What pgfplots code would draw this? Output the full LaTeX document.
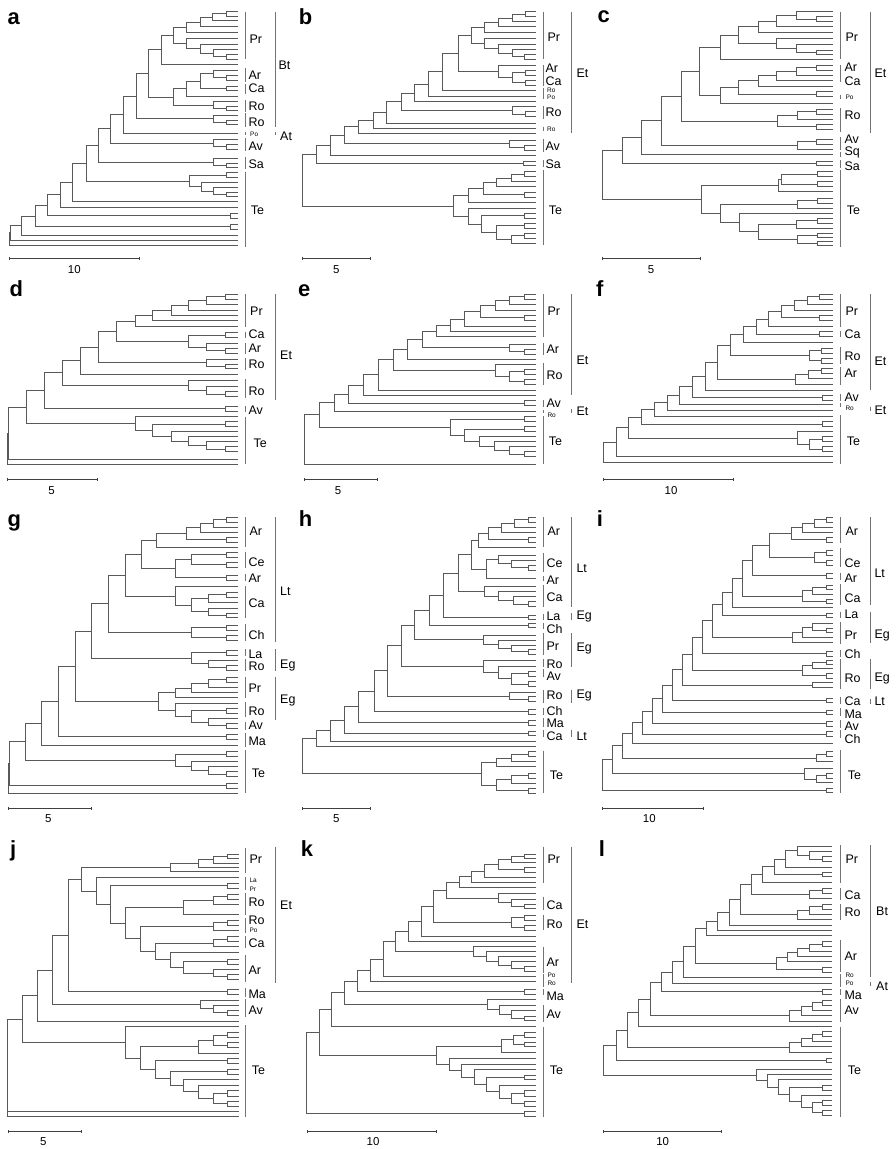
\documentclass[border=0pt]{standalone}
\usepackage{pgfplots}
\pgfplotsset{compat=1.18}
\usepackage{fontspec}
\setmainfont{Liberation Sans}
\pgfplotsset{
  panel/.style={scale only axis, hide axis, clip=false, xmin=0, xmax=900, width=300bp, ymin=0, y dir=reverse, anchor=north west, unbounded coords=jump},
  tr/.style={no markers, line width=0.75bp, color=black!65},
  cb/.style={no markers, line width=0.6bp, color=black!55},
  sb/.style={no markers, line width=0.7bp, color=black!75},
}
\tikzset{
  L/.style={anchor=west, inner sep=0pt, font=\fontsize{12.5}{13}\selectfont},
  S/.style={anchor=west, inner sep=0pt, font=\fontsize{6.5}{7}\selectfont},
  N/.style={anchor=center, inner sep=0pt, font=\fontsize{11.5}{12}\selectfont},
  P/.style={anchor=base west, inner sep=0pt, font=\fontsize{22}{22}\selectfont\bfseries},
}
\begin{document}
\begin{tikzpicture}[x=1bp,y=1bp]
\useasboundingbox (0bp,0bp) rectangle (896bp,-1149bp);
% ---------------- a
\begin{axis}[panel, at={(0bp,0bp)}, ymax=855, height=285bp]
\addplot[tr] coordinates {
(713,35)(678,35)(678,48)(713,48)(0,nan)
(678,41.5)(638,41.5)(638,62)(713,62)(0,nan)
(638,51.75)(600,51.75)(600,80)(713,80)(0,nan)
(600,65.9)(560,65.9)(560,98)(713,98)(0,nan)
(713,163)(678,163)(678,177)(713,177)(0,nan)
(713,148)(640,148)(640,170)(678,170)(0,nan)
(713,132)(600,132)(600,159)(640,159)(0,nan)
(713,115)(560,115)(560,145.5)(600,145.5)(0,nan)
(560,81.9)(520,81.9)(520,130.25)(560,130.25)(0,nan)
(520,106.1)(485,106.1)(485,192)(713,192)(0,nan)
(713,225)(678,225)(678,240)(713,240)(0,nan)
(713,210)(640,210)(640,232.5)(678,232.5)(0,nan)
(713,258)(678,258)(678,272)(713,272)(0,nan)
(640,221.25)(600,221.25)(600,265)(678,265)(0,nan)
(600,243.1)(560,243.1)(560,290)(713,290)(0,nan)
(713,318)(678,318)(678,332)(713,332)(0,nan)
(713,305)(640,305)(640,325)(678,325)(0,nan)
(560,266.6)(520,266.6)(520,315)(640,315)(0,nan)
(485,149.05)(445,149.05)(445,290.8)(520,290.8)(0,nan)
(713,360)(678,360)(678,373)(713,373)(0,nan)
(713,345)(640,345)(640,366.5)(678,366.5)(0,nan)
(445,219.9)(408,219.9)(408,355.75)(640,355.75)(0,nan)
(408,287.8)(370,287.8)(370,400)(713,400)(0,nan)
(713,433)(678,433)(678,447)(713,447)(0,nan)
(713,418)(640,418)(640,440)(678,440)(0,nan)
(370,343.9)(330,343.9)(330,429)(640,429)(0,nan)
(713,490)(678,490)(678,503)(713,503)(0,nan)
(713,475)(640,475)(640,496.5)(678,496.5)(0,nan)
(330,386.5)(295,386.5)(295,485.75)(640,485.75)(0,nan)
(713,518)(678,518)(678,533)(713,533)(0,nan)
(713,577)(678,577)(678,590)(713,590)(0,nan)
(713,562)(640,562)(640,583.5)(678,583.5)(0,nan)
(713,548)(605,548)(605,572.75)(640,572.75)(0,nan)
(678,525.5)(568,525.5)(568,560.4)(605,560.4)(0,nan)
(295,436.1)(258,436.1)(258,542.9)(568,542.9)(0,nan)
(258,489.5)(218,489.5)(218,605)(713,605)(0,nan)
(218,547.3)(180,547.3)(180,622)(713,622)(0,nan)
(713,640)(690,640)(690,655)(713,655)(0,nan)
(180,584.6)(143,584.6)(143,647.5)(690,647.5)(0,nan)
(713,673)(690,673)(690,688)(713,688)(0,nan)
(143,616)(105,616)(105,680.5)(690,680.5)(0,nan)
(105,648.3)(65,648.3)(65,705)(713,705)(0,nan)
(65,676.6)(32,676.6)(32,720)(713,720)(0,nan)
(32,698.3)(28,698.3)(28,735)(713,735)
};
\addplot[cb] coordinates {(735,35)(735,178)(0,nan)(735,205)(735,245)(0,nan)(735,252)(735,282)(0,nan)(735,300)(735,335)(0,nan)(735,340)(735,380)(0,nan)(735,396)(735,406)(0,nan)(735,413)(735,452)(0,nan)(735,470)(735,508)(0,nan)(735,515)(735,740)(0,nan)(825,35)(825,380)(0,nan)(825,396)(825,406)};
\addplot[sb] coordinates {(28,770)(28,780)(0,nan)(28,775)(418,775)(0,nan)(418,770)(418,780)};
\node[P] at (22,72) {a};
\node[L] at (748,118) {Pr};
\node[L] at (745,226) {Ar};
\node[L] at (745,266) {Ca};
\node[L] at (745,318) {Ro};
\node[L] at (745,366) {Ro};
\node[S] at (750,403) {Po};
\node[L] at (745,438) {Av};
\node[L] at (745,492) {Sa};
\node[L] at (752,632) {Te};
\node[L] at (835,197) {Bt};
\node[L] at (840,410) {At};
\node[N] at (223,810) {10};
\end{axis}
% ---------------- b
\begin{axis}[panel, at={(298bp,0bp)}, ymax=855, height=285bp]
\addplot[tr] coordinates {
(713,35)(683,35)(683,50)(713,50)(0,nan)
(683,42.5)(643,42.5)(643,65)(713,65)(0,nan)
(643,53.75)(600,53.75)(600,80)(713,80)(0,nan)
(600,66.9)(560,66.9)(560,97)(713,97)(0,nan)
(713,163)(680,163)(680,178)(713,178)(0,nan)
(713,148)(643,148)(643,170.5)(680,170.5)(0,nan)
(713,132)(600,132)(600,159.25)(643,159.25)(0,nan)
(713,115)(560,115)(560,145.6)(600,145.6)(0,nan)
(560,81.9)(520,81.9)(520,130.3)(560,130.3)(0,nan)
(713,210)(683,210)(683,225)(713,225)(0,nan)
(713,240)(683,240)(683,255)(713,255)(0,nan)
(683,217.5)(643,217.5)(643,247.5)(683,247.5)(0,nan)
(713,195)(600,195)(600,232.5)(643,232.5)(0,nan)
(520,106.1)(480,106.1)(480,213.75)(600,213.75)(0,nan)
(480,159.9)(433,159.9)(433,270)(713,270)(0,nan)
(433,214.95)(390,214.95)(390,290)(713,290)(0,nan)
(390,252.5)(350,252.5)(350,305)(713,305)(0,nan)
(713,335)(683,335)(683,350)(713,350)(0,nan)
(713,320)(643,320)(643,342.5)(683,342.5)(0,nan)
(350,278.7)(310,278.7)(310,331.25)(643,331.25)(0,nan)
(310,305)(265,305)(265,370)(713,370)(0,nan)
(265,337.5)(225,337.5)(225,385)(713,385)(0,nan)
(225,361.25)(180,361.25)(180,400)(713,400)(0,nan)
(713,435)(680,435)(680,450)(713,450)(0,nan)
(713,420)(633,420)(633,442.5)(680,442.5)(0,nan)
(180,380.6)(138,380.6)(138,431.25)(633,431.25)(0,nan)
(138,405.9)(97,405.9)(97,465)(713,465)(0,nan)
(713,483)(675,483)(675,497)(713,497)(0,nan)
(97,435.5)(55,435.5)(55,490)(675,490)(0,nan)
(713,515)(680,515)(680,530)(713,530)(0,nan)
(680,522.5)(640,522.5)(640,545)(713,545)(0,nan)
(640,533.75)(595,533.75)(595,560)(713,560)(0,nan)
(713,577)(680,577)(680,592)(713,592)(0,nan)
(595,546.9)(555,546.9)(555,584.5)(680,584.5)(0,nan)
(555,565.7)(510,565.7)(510,608)(713,608)(0,nan)
(713,640)(680,640)(680,655)(713,655)(0,nan)
(713,670)(680,670)(680,685)(713,685)(0,nan)
(713,700)(680,700)(680,715)(713,715)(0,nan)
(680,707.5)(640,707.5)(640,730)(713,730)(0,nan)
(680,677.5)(595,677.5)(595,718.75)(640,718.75)(0,nan)
(680,647.5)(550,647.5)(550,698.1)(595,698.1)(0,nan)
(713,625)(510,625)(510,672.8)(550,672.8)(0,nan)
(510,586.8)(465,586.8)(465,648.9)(510,648.9)(0,nan)
(55,462.7)(12,462.7)(12,617.9)(465,617.9)
};
\addplot[cb] coordinates {(735,35)(735,178)(0,nan)(735,195)(735,258)(0,nan)(735,263)(735,297)(0,nan)(735,318)(735,358)(0,nan)(735,380)(735,393)(0,nan)(735,418)(735,455)(0,nan)(735,480)(735,500)(0,nan)(735,510)(735,735)(0,nan)(820,35)(820,400)};
\addplot[sb] coordinates {(12,770)(12,780)(0,nan)(12,775)(217,775)(0,nan)(217,770)(217,780)};
\node[P] at (2,72) {b};
\node[L] at (748,112) {Pr};
\node[L] at (742,204) {Ar};
\node[L] at (742,244) {Ca};
\node[S] at (747,271) {Ro};
\node[S] at (747,291) {Po};
\node[L] at (742,338) {Ro};
\node[S] at (747,387) {Ro};
\node[L] at (742,440) {Av};
\node[L] at (742,492) {Sa};
\node[L] at (752,632) {Te};
\node[L] at (835,220) {Et};
\node[N] at (115,808) {5};
\end{axis}
% ---------------- c
\begin{axis}[panel, at={(596bp,0bp)}, ymax=855, height=285bp]
\addplot[tr] coordinates {
(710,50)(660,50)(660,65)(710,65)(0,nan)
(710,35)(600,35)(600,57.5)(660,57.5)(0,nan)
(600,46.25)(540,46.25)(540,80)(710,80)(0,nan)
(540,63.1)(487,63.1)(487,97)(710,97)(0,nan)
(710,150)(660,150)(660,163)(710,163)(0,nan)
(710,132)(600,132)(600,156.5)(660,156.5)(0,nan)
(710,115)(540,115)(540,144.25)(600,144.25)(0,nan)
(487,80.05)(428,80.05)(428,129.6)(540,129.6)(0,nan)
(428,104.8)(372,104.8)(372,178)(710,178)(0,nan)
(710,195)(660,195)(660,210)(710,210)(0,nan)
(660,202.5)(600,202.5)(600,225)(710,225)(0,nan)
(600,213.75)(540,213.75)(540,240)(710,240)(0,nan)
(540,226.9)(487,226.9)(487,258)(710,258)(0,nan)
(710,275)(660,275)(660,290)(710,290)(0,nan)
(487,242.4)(428,242.4)(428,282.5)(660,282.5)(0,nan)
(428,262.5)(372,262.5)(372,310)(710,310)(0,nan)
(372,141.4)(310,141.4)(310,286.2)(372,286.2)(0,nan)
(710,328)(660,328)(660,343)(710,343)(0,nan)
(660,335.5)(603,335.5)(603,358)(710,358)(0,nan)
(710,373)(660,373)(660,388)(710,388)(0,nan)
(603,346.75)(543,346.75)(543,380.5)(660,380.5)(0,nan)
(310,213.8)(255,213.8)(255,363.6)(543,363.6)(0,nan)
(710,418)(660,418)(660,432)(710,432)(0,nan)
(660,425)(603,425)(603,447)(710,447)(0,nan)
(255,288.7)(195,288.7)(195,436)(603,436)(0,nan)
(195,362.35)(135,362.35)(135,462)(710,462)(0,nan)
(710,483)(660,483)(660,497)(710,497)(0,nan)
(135,412.2)(78,412.2)(78,490)(660,490)(0,nan)
(710,515)(665,515)(665,530)(710,530)(0,nan)
(710,545)(665,545)(665,560)(710,560)(0,nan)
(665,522.5)(555,522.5)(555,552.5)(665,552.5)(0,nan)
(555,537.5)(548,537.5)(548,575)(710,575)(0,nan)
(710,595)(665,595)(665,610)(710,610)(0,nan)
(665,602.5)(605,602.5)(605,625)(710,625)(0,nan)
(710,655)(665,655)(665,670)(710,670)(0,nan)
(665,662.5)(600,662.5)(600,685)(710,685)(0,nan)
(710,700)(665,700)(665,712)(710,712)(0,nan)
(710,723)(665,723)(665,735)(710,735)(0,nan)
(665,706)(605,706)(605,729)(665,729)(0,nan)
(600,673.75)(487,673.75)(487,717.5)(605,717.5)(0,nan)
(710,640)(430,640)(430,695.6)(487,695.6)(0,nan)
(605,613.75)(372,613.75)(372,667.8)(430,667.8)(0,nan)
(548,556.25)(315,556.25)(315,640.8)(372,640.8)(0,nan)
(78,451.1)(18,451.1)(18,598.5)(315,598.5)
};
\addplot[cb] coordinates {(733,35)(733,178)(0,nan)(733,195)(733,245)(0,nan)(733,284)(733,298)(0,nan)(733,325)(733,395)(0,nan)(733,412)(733,450)(0,nan)(733,455)(733,470)(0,nan)(733,480)(733,503)(0,nan)(733,510)(733,740)(0,nan)(822,35)(822,400)};
\addplot[sb] coordinates {(18,770)(18,780)(0,nan)(18,775)(312,775)(0,nan)(312,770)(312,780)};
\node[P] at (4,68) {c};
\node[L] at (748,112) {Pr};
\node[L] at (745,202) {Ar};
\node[L] at (745,244) {Ca};
\node[S] at (748,292) {Po};
\node[L] at (745,345) {Ro};
\node[L] at (745,417) {Av};
\node[L] at (745,457) {Sq};
\node[L] at (745,499) {Sa};
\node[L] at (752,630) {Te};
\node[L] at (835,220) {Et};
\node[N] at (165,808) {5};
\end{axis}
% ---------------- d
\begin{axis}[panel, at={(0bp,-280bp)}, ymax=660, height=220bp]
\addplot[tr] coordinates {
(715,42)(675,42)(675,57)(715,57)(0,nan)
(675,49.5)(620,49.5)(620,72)(715,72)(0,nan)
(620,60.75)(565,60.75)(565,90)(715,90)(0,nan)
(565,75.4)(515,75.4)(515,105)(715,105)(0,nan)
(515,90.2)(458,90.2)(458,122)(715,122)(0,nan)
(458,106.1)(405,106.1)(405,140)(715,140)(0,nan)
(715,158)(675,158)(675,172)(715,172)(0,nan)
(715,205)(675,205)(675,220)(715,220)(0,nan)
(715,190)(620,190)(620,212.5)(675,212.5)(0,nan)
(675,165)(565,165)(565,201.25)(620,201.25)(0,nan)
(405,123.05)(348,123.05)(348,183.1)(565,183.1)(0,nan)
(715,252)(675,252)(675,266)(715,266)(0,nan)
(715,238)(620,238)(620,259)(675,259)(0,nan)
(348,153.1)(295,153.1)(295,248.5)(620,248.5)(0,nan)
(295,200.8)(240,200.8)(240,283)(715,283)(0,nan)
(715,335)(675,335)(675,350)(715,350)(0,nan)
(715,318)(620,318)(620,342.5)(675,342.5)(0,nan)
(715,300)(565,300)(565,330.25)(620,330.25)(0,nan)
(240,241.9)(188,241.9)(188,315.1)(565,315.1)(0,nan)
(715,380)(675,380)(675,393)(715,393)(0,nan)
(188,278.5)(132,278.5)(132,386.5)(675,386.5)(0,nan)
(715,425)(675,425)(675,440)(715,440)(0,nan)
(715,500)(675,500)(675,515)(715,515)(0,nan)
(715,485)(620,485)(620,507.5)(675,507.5)(0,nan)
(715,470)(565,470)(565,496.25)(620,496.25)(0,nan)
(715,455)(515,455)(515,483.1)(565,483.1)(0,nan)
(675,432.5)(458,432.5)(458,469.1)(515,469.1)(0,nan)
(715,410)(405,410)(405,450.8)(458,450.8)(0,nan)
(132,332.5)(78,332.5)(78,430.4)(405,430.4)(0,nan)
(78,381.45)(26,381.45)(26,538)(715,538)(0,nan)
(26,459.7)(22,459.7)(22,552)(715,552)
};
\addplot[cb] coordinates {(735,42)(735,140)(0,nan)(735,155)(735,175)(0,nan)(735,188)(735,222)(0,nan)(735,235)(735,270)(0,nan)(735,298)(735,355)(0,nan)(735,378)(735,396)(0,nan)(735,410)(735,553)(0,nan)(825,42)(825,360)};
\addplot[sb] coordinates {(22,593)(22,603)(0,nan)(22,598)(292,598)(0,nan)(292,593)(292,603)};
\node[P] at (28,48) {d};
\node[L] at (750,95) {Pr};
\node[L] at (745,162) {Ca};
\node[L] at (745,206) {Ar};
\node[L] at (745,252) {Ro};
\node[L] at (745,335) {Ro};
\node[L] at (745,390) {Av};
\node[L] at (760,490) {Te};
\node[L] at (840,225) {Et};
\node[N] at (155,632) {5};
\end{axis}
% ---------------- e
\begin{axis}[panel, at={(298bp,-280bp)}, ymax=660, height=220bp]
\addplot[tr] coordinates {
(713,42)(680,42)(680,57)(713,57)(0,nan)
(680,49.5)(635,49.5)(635,72)(713,72)(0,nan)
(635,60.75)(593,60.75)(593,90)(713,90)(0,nan)
(713,105)(680,105)(680,120)(713,120)(0,nan)
(593,75.4)(548,75.4)(548,112.5)(680,112.5)(0,nan)
(548,93.95)(500,93.95)(500,140)(713,140)(0,nan)
(500,116.95)(458,116.95)(458,155)(713,155)(0,nan)
(458,136)(415,136)(415,170)(713,170)(0,nan)
(713,207)(680,207)(680,222)(713,222)(0,nan)
(713,192)(635,192)(635,214.5)(680,214.5)(0,nan)
(415,153)(372,153)(372,203.25)(635,203.25)(0,nan)
(372,178.1)(328,178.1)(328,237)(713,237)(0,nan)
(713,267)(680,267)(680,282)(713,282)(0,nan)
(713,297)(680,297)(680,312)(713,312)(0,nan)
(680,274.5)(635,274.5)(635,304.5)(680,304.5)(0,nan)
(713,252)(593,252)(593,289.5)(635,289.5)(0,nan)
(328,207.6)(285,207.6)(285,270.75)(593,270.75)(0,nan)
(285,239.2)(240,239.2)(240,330)(713,330)(0,nan)
(240,284.6)(195,284.6)(195,345)(713,345)(0,nan)
(713,362)(680,362)(680,377)(713,377)(0,nan)
(195,314.8)(152,314.8)(152,369.5)(680,369.5)(0,nan)
(152,342.15)(108,342.15)(108,393)(713,393)(0,nan)
(713,410)(680,410)(680,425)(713,425)(0,nan)
(713,440)(680,440)(680,455)(713,455)(0,nan)
(713,515)(680,515)(680,530)(713,530)(0,nan)
(713,500)(635,500)(635,522.5)(680,522.5)(0,nan)
(713,485)(590,485)(590,511.25)(635,511.25)(0,nan)
(713,470)(545,470)(545,498.1)(590,498.1)(0,nan)
(680,447.5)(500,447.5)(500,484.1)(545,484.1)(0,nan)
(680,417.5)(458,417.5)(458,465.8)(500,465.8)(0,nan)
(108,367.6)(63,367.6)(63,441.6)(458,441.6)(0,nan)
(63,404.6)(18,404.6)(18,553)(713,553)
};
\addplot[cb] coordinates {(735,42)(735,170)(0,nan)(735,190)(735,225)(0,nan)(735,250)(735,315)(0,nan)(735,360)(735,380)(0,nan)(735,390)(735,398)(0,nan)(735,408)(735,553)(0,nan)(820,42)(820,345)(0,nan)(820,388)(820,400)};
\addplot[sb] coordinates {(18,593)(18,603)(0,nan)(18,598)(237,598)(0,nan)(237,593)(237,603)};
\node[P] at (0,48) {e};
\node[L] at (748,95) {Pr};
\node[L] at (745,207) {Ar};
\node[L] at (745,285) {Ro};
\node[L] at (745,370) {Av};
\node[S] at (748,405) {Ro};
\node[L] at (752,485) {Te};
\node[L] at (835,240) {Et};
\node[L] at (835,395) {Et};
\node[N] at (120,632) {5};
\end{axis}
% ---------------- f
\begin{axis}[panel, at={(596bp,-280bp)}, ymax=660, height=220bp]
\addplot[tr] coordinates {
(710,42)(670,42)(670,57)(710,57)(0,nan)
(670,49.5)(633,49.5)(633,72)(710,72)(0,nan)
(633,60.75)(595,60.75)(595,90)(710,90)(0,nan)
(710,105)(670,105)(670,120)(710,120)(0,nan)
(595,75.4)(555,75.4)(555,112.5)(670,112.5)(0,nan)
(555,93.95)(518,93.95)(518,140)(710,140)(0,nan)
(710,155)(670,155)(670,170)(710,170)(0,nan)
(518,116.95)(480,116.95)(480,162.5)(670,162.5)(0,nan)
(480,139.7)(442,139.7)(442,187)(710,187)(0,nan)
(710,205)(675,205)(675,220)(710,220)(0,nan)
(710,235)(675,235)(675,250)(710,250)(0,nan)
(675,212.5)(640,212.5)(640,242.5)(675,242.5)(0,nan)
(442,163.4)(403,163.4)(403,227.5)(640,227.5)(0,nan)
(710,265)(675,265)(675,280)(710,280)(0,nan)
(675,272.5)(638,272.5)(638,295)(710,295)(0,nan)
(638,283.75)(598,283.75)(598,312)(710,312)(0,nan)
(403,195.45)(365,195.45)(365,297.9)(598,297.9)(0,nan)
(365,246.7)(327,246.7)(327,330)(710,330)(0,nan)
(710,345)(678,345)(678,360)(710,360)(0,nan)
(327,288.3)(290,288.3)(290,352.5)(678,352.5)(0,nan)
(290,320.4)(250,320.4)(250,372)(710,372)(0,nan)
(250,346.2)(213,346.2)(213,390)(710,390)(0,nan)
(213,368.1)(175,368.1)(175,410)(710,410)(0,nan)
(710,425)(680,425)(680,440)(710,440)(0,nan)
(175,389)(135,389)(135,432.5)(680,432.5)(0,nan)
(710,470)(680,470)(680,485)(710,485)(0,nan)
(710,500)(680,500)(680,515)(710,515)(0,nan)
(680,477.5)(640,477.5)(640,507.5)(680,507.5)(0,nan)
(710,455)(605,455)(605,492.5)(640,492.5)(0,nan)
(135,410.75)(97,410.75)(97,473.75)(605,473.75)(0,nan)
(97,442.25)(60,442.25)(60,530)(710,530)(0,nan)
(60,486.1)(22,486.1)(22,548)(710,548)
};
\addplot[cb] coordinates {(733,42)(733,140)(0,nan)(733,152)(733,172)(0,nan)(733,202)(733,252)(0,nan)(733,262)(733,315)(0,nan)(733,343)(733,362)(0,nan)(733,370)(733,380)(0,nan)(733,405)(733,553)(0,nan)(822,42)(822,330)(0,nan)(822,380)(822,392)};
\addplot[sb] coordinates {(22,593)(22,603)(0,nan)(22,598)(412,598)(0,nan)(412,593)(412,603)};
\node[P] at (0,48) {f};
\node[L] at (748,95) {Pr};
\node[L] at (745,162) {Ca};
\node[L] at (745,229) {Ro};
\node[L] at (745,281) {Ar};
\node[L] at (745,352) {Av};
\node[S] at (748,386) {Ro};
\node[L] at (752,485) {Te};
\node[L] at (835,245) {Et};
\node[L] at (835,390) {Et};
\node[N] at (225,632) {10};
\end{axis}
% ---------------- g
\begin{axis}[panel, at={(0bp,-500bp)}, ymax=990, height=330bp]
\addplot[tr] coordinates {
(713,51)(680,51)(680,66)(713,66)(0,nan)
(680,58.5)(640,58.5)(640,81)(713,81)(0,nan)
(640,69.75)(600,69.75)(600,96)(713,96)(0,nan)
(713,111)(680,111)(680,126)(713,126)(0,nan)
(600,82.9)(560,82.9)(560,118.5)(680,118.5)(0,nan)
(560,100.7)(470,100.7)(470,141)(713,141)(0,nan)
(713,156)(680,156)(680,171)(713,171)(0,nan)
(713,186)(680,186)(680,201)(713,201)(0,nan)
(680,163.5)(575,163.5)(575,193.5)(680,193.5)(0,nan)
(713,225)(680,225)(680,240)(713,240)(0,nan)
(575,178.5)(525,178.5)(525,232.5)(680,232.5)(0,nan)
(470,120.85)(425,120.85)(425,205.5)(525,205.5)(0,nan)
(713,277)(680,277)(680,292)(713,292)(0,nan)
(680,284.5)(625,284.5)(625,307)(713,307)(0,nan)
(713,340)(680,340)(680,352)(713,352)(0,nan)
(713,325)(625,325)(625,346)(680,346)(0,nan)
(625,295.75)(575,295.75)(575,335.5)(625,335.5)(0,nan)
(713,260)(525,260)(525,315.6)(575,315.6)(0,nan)
(425,163.2)(375,163.2)(375,287.8)(525,287.8)(0,nan)
(713,375)(680,375)(680,390)(713,390)(0,nan)
(713,405)(680,405)(680,420)(713,420)(0,nan)
(680,382.5)(575,382.5)(575,412.5)(680,412.5)(0,nan)
(375,225.5)(325,225.5)(325,397.5)(575,397.5)(0,nan)
(713,450)(680,450)(680,465)(713,465)(0,nan)
(713,495)(680,495)(680,510)(713,510)(0,nan)
(713,480)(625,480)(625,502.5)(680,502.5)(0,nan)
(680,457.5)(575,457.5)(575,491.25)(625,491.25)(0,nan)
(325,311.5)(275,311.5)(275,474.4)(575,474.4)(0,nan)
(713,532)(680,532)(680,547)(713,547)(0,nan)
(680,539.5)(625,539.5)(625,562)(713,562)(0,nan)
(625,550.75)(575,550.75)(575,577)(713,577)(0,nan)
(575,563.9)(525,563.9)(525,592)(713,592)(0,nan)
(713,625)(680,625)(680,640)(713,640)(0,nan)
(713,670)(680,670)(680,685)(713,685)(0,nan)
(713,655)(625,655)(625,677.5)(680,677.5)(0,nan)
(680,632.5)(575,632.5)(575,666.25)(625,666.25)(0,nan)
(713,610)(525,610)(525,649.4)(575,649.4)(0,nan)
(525,577.9)(475,577.9)(475,629.7)(525,629.7)(0,nan)
(275,392.95)(225,392.95)(225,603.8)(475,603.8)(0,nan)
(713,702)(680,702)(680,717)(713,717)(0,nan)
(225,498.4)(175,498.4)(175,709.5)(680,709.5)(0,nan)
(175,603.95)(125,603.95)(125,735)(713,735)(0,nan)
(713,755)(680,755)(680,770)(713,770)(0,nan)
(713,815)(680,815)(680,830)(713,830)(0,nan)
(713,800)(625,800)(625,822.5)(680,822.5)(0,nan)
(713,785)(575,785)(575,811.25)(625,811.25)(0,nan)
(680,762.5)(525,762.5)(525,798.1)(575,798.1)(0,nan)
(125,669.5)(75,669.5)(75,780.3)(525,780.3)(0,nan)
(713,850)(680,850)(680,865)(713,865)(0,nan)
(75,724.9)(28,724.9)(28,857.5)(680,857.5)(0,nan)
(28,791.2)(25,791.2)(25,880)(713,880)
};
\addplot[cb] coordinates {(735,51)(735,141)(0,nan)(735,156)(735,205)(0,nan)(735,222)(735,243)(0,nan)(735,258)(735,355)(0,nan)(735,372)(735,422)(0,nan)(735,448)(735,468)(0,nan)(735,478)(735,512)(0,nan)(735,530)(735,595)(0,nan)(735,605)(735,650)(0,nan)(735,665)(735,690)(0,nan)(735,700)(735,740)(0,nan)(735,750)(735,880)(0,nan)(825,51)(825,425)(0,nan)(825,448)(825,512)(0,nan)(825,530)(825,660)};
\addplot[sb] coordinates {(25,920)(25,930)(0,nan)(25,925)(275,925)(0,nan)(275,920)(275,930)};
\node[P] at (22,80) {g};
\node[L] at (748,95) {Ar};
\node[L] at (745,188) {Ce};
\node[L] at (745,234) {Ar};
\node[L] at (745,310) {Ca};
\node[L] at (745,405) {Ch};
\node[L] at (745,462) {La};
\node[L] at (745,500) {Ro};
\node[L] at (745,565) {Pr};
\node[L] at (745,635) {Ro};
\node[L] at (745,675) {Av};
\node[L] at (745,725) {Ma};
\node[L] at (755,820) {Te};
\node[L] at (840,275) {Lt};
\node[L] at (840,495) {Eg};
\node[L] at (840,600) {Eg};
\node[N] at (145,955) {5};
\end{axis}
% ---------------- h
\begin{axis}[panel, at={(298bp,-500bp)}, ymax=990, height=330bp]
\addplot[tr] coordinates {
(713,51)(690,51)(690,66)(713,66)(0,nan)
(690,58.5)(650,58.5)(650,81)(713,81)(0,nan)
(650,69.75)(610,69.75)(610,96)(713,96)(0,nan)
(713,111)(690,111)(690,126)(713,126)(0,nan)
(610,82.9)(570,82.9)(570,118.5)(690,118.5)(0,nan)
(570,100.7)(540,100.7)(540,141)(713,141)(0,nan)
(713,195)(690,195)(690,210)(713,210)(0,nan)
(713,180)(640,180)(640,202.5)(690,202.5)(0,nan)
(713,165)(600,165)(600,191.25)(640,191.25)(0,nan)
(600,178.1)(565,178.1)(565,235)(713,235)(0,nan)
(540,120.85)(520,120.85)(520,206.6)(565,206.6)(0,nan)
(713,305)(690,305)(690,320)(713,320)(0,nan)
(713,290)(645,290)(645,312.5)(690,312.5)(0,nan)
(713,275)(600,275)(600,301.25)(645,301.25)(0,nan)
(713,260)(560,260)(560,288.1)(600,288.1)(0,nan)
(520,163.7)(480,163.7)(480,274.05)(560,274.05)(0,nan)
(713,345)(690,345)(690,358)(713,358)(0,nan)
(480,218.9)(435,218.9)(435,351.5)(690,351.5)(0,nan)
(713,370)(690,370)(690,383)(713,383)(0,nan)
(435,285.2)(393,285.2)(393,376.5)(690,376.5)(0,nan)
(713,448)(690,448)(690,462)(713,462)(0,nan)
(713,435)(640,435)(640,455)(690,455)(0,nan)
(713,420)(600,420)(600,445)(640,445)(0,nan)
(713,405)(555,405)(555,432.5)(600,432.5)(0,nan)
(393,330.85)(350,330.85)(350,418.75)(555,418.75)(0,nan)
(713,513)(690,513)(690,528)(713,528)(0,nan)
(713,545)(690,545)(690,560)(713,560)(0,nan)
(690,520.5)(640,520.5)(640,552.5)(690,552.5)(0,nan)
(713,498)(600,498)(600,536.5)(640,536.5)(0,nan)
(713,480)(555,480)(555,517.25)(600,517.25)(0,nan)
(350,374.8)(310,374.8)(310,498.6)(555,498.6)(0,nan)
(713,590)(690,590)(690,605)(713,605)(0,nan)
(713,578)(635,578)(635,597.5)(690,597.5)(0,nan)
(310,436.7)(268,436.7)(268,587.75)(635,587.75)(0,nan)
(713,628)(690,628)(690,642)(713,642)(0,nan)
(268,512.2)(228,512.2)(228,635)(690,635)(0,nan)
(713,660)(690,660)(690,675)(713,675)(0,nan)
(228,573.6)(182,573.6)(182,667.5)(690,667.5)(0,nan)
(713,693)(690,693)(690,707)(713,707)(0,nan)
(182,620.55)(140,620.55)(140,700)(690,700)(0,nan)
(140,660.3)(97,660.3)(97,723)(713,723)(0,nan)
(97,691.6)(55,691.6)(55,738)(713,738)(0,nan)
(713,755)(690,755)(690,770)(713,770)(0,nan)
(690,762.5)(640,762.5)(640,785)(713,785)(0,nan)
(640,773.75)(595,773.75)(595,800)(713,800)(0,nan)
(713,820)(690,820)(690,835)(713,835)(0,nan)
(690,827.5)(640,827.5)(640,850)(713,850)(0,nan)
(713,865)(690,865)(690,880)(713,880)(0,nan)
(640,838.75)(595,838.75)(595,872.5)(690,872.5)(0,nan)
(595,786.9)(550,786.9)(550,855.6)(595,855.6)(0,nan)
(55,714.8)(12,714.8)(12,821.25)(550,821.25)
};
\addplot[cb] coordinates {(735,51)(735,141)(0,nan)(735,160)(735,215)(0,nan)(735,228)(735,242)(0,nan)(735,255)(735,322)(0,nan)(735,342)(735,360)(0,nan)(735,368)(735,386)(0,nan)(735,400)(735,465)(0,nan)(735,478)(735,500)(0,nan)(735,508)(735,532)(0,nan)(735,570)(735,610)(0,nan)(735,625)(735,645)(0,nan)(735,655)(735,680)(0,nan)(735,690)(735,710)(0,nan)(735,752)(735,880)(0,nan)(820,51)(820,320)(0,nan)(820,340)(820,360)(0,nan)(820,400)(820,500)(0,nan)(820,570)(820,610)(0,nan)(820,690)(820,712)};
\addplot[sb] coordinates {(12,920)(12,930)(0,nan)(12,925)(217,925)(0,nan)(217,920)(217,930)};
\node[P] at (2,80) {h};
\node[L] at (748,95) {Ar};
\node[L] at (745,190) {Ce};
\node[L] at (745,240) {Ar};
\node[L] at (745,292) {Ca};
\node[L] at (745,349) {La};
\node[L] at (745,387) {Ch};
\node[L] at (745,440) {Pr};
\node[L] at (745,494) {Ro};
\node[L] at (745,530) {Av};
\node[L] at (745,585) {Ro};
\node[L] at (745,634) {Ch};
\node[L] at (745,670) {Ma};
\node[L] at (745,708) {Ca};
\node[L] at (755,825) {Te};
\node[L] at (835,205) {Lt};
\node[L] at (835,350) {Eg};
\node[L] at (835,445) {Eg};
\node[L] at (835,585) {Eg};
\node[L] at (835,708) {Lt};
\node[N] at (115,955) {5};
\end{axis}
% ---------------- i
\begin{axis}[panel, at={(596bp,-500bp)}, ymax=990, height=330bp]
\addplot[tr] coordinates {
(710,51)(690,51)(690,66)(710,66)(0,nan)
(690,58.5)(655,58.5)(655,81)(710,81)(0,nan)
(655,69.75)(620,69.75)(620,96)(710,96)(0,nan)
(710,111)(690,111)(690,126)(710,126)(0,nan)
(620,82.9)(585,82.9)(585,118.5)(690,118.5)(0,nan)
(710,150)(690,150)(690,165)(710,165)(0,nan)
(710,180)(690,180)(690,195)(710,195)(0,nan)
(690,157.5)(655,157.5)(655,187.5)(690,187.5)(0,nan)
(585,100.7)(520,100.7)(520,172.5)(655,172.5)(0,nan)
(710,220)(690,220)(690,235)(710,235)(0,nan)
(520,136.6)(470,136.6)(470,227.5)(690,227.5)(0,nan)
(710,255)(690,255)(690,268)(710,268)(0,nan)
(690,261.5)(650,261.5)(650,282)(710,282)(0,nan)
(710,297)(690,297)(690,310)(710,310)(0,nan)
(650,271.75)(620,271.75)(620,303.5)(690,303.5)(0,nan)
(470,182.05)(440,182.05)(440,287.6)(620,287.6)(0,nan)
(440,234.8)(410,234.8)(410,322)(710,322)(0,nan)
(710,340)(690,340)(690,352)(710,352)(0,nan)
(410,278.4)(380,278.4)(380,346)(690,346)(0,nan)
(710,385)(690,385)(690,398)(710,398)(0,nan)
(710,370)(650,370)(650,391.5)(690,391.5)(0,nan)
(650,380.75)(620,380.75)(620,413)(710,413)(0,nan)
(620,396.9)(590,396.9)(590,428)(710,428)(0,nan)
(380,312.2)(350,312.2)(350,412.4)(590,412.4)(0,nan)
(710,455)(690,455)(690,468)(710,468)(0,nan)
(350,362.3)(320,362.3)(320,461.5)(690,461.5)(0,nan)
(710,480)(690,480)(690,493)(710,493)(0,nan)
(690,486.5)(650,486.5)(650,506)(710,506)(0,nan)
(710,520)(690,520)(690,535)(710,535)(0,nan)
(650,496.25)(620,496.25)(620,527.5)(690,527.5)(0,nan)
(320,411.9)(290,411.9)(290,511.9)(620,511.9)(0,nan)
(710,548)(650,548)(650,562)(710,562)(0,nan)
(290,461.9)(260,461.9)(260,555)(650,555)(0,nan)
(710,595)(690,595)(690,608)(710,608)(0,nan)
(260,508.45)(230,508.45)(230,601.5)(690,601.5)(0,nan)
(710,630)(690,630)(690,642)(710,642)(0,nan)
(230,555)(200,555)(200,636)(690,636)(0,nan)
(710,665)(690,665)(690,678)(710,678)(0,nan)
(200,595.5)(170,595.5)(170,671.5)(690,671.5)(0,nan)
(710,695)(690,695)(690,710)(710,710)(0,nan)
(170,633.5)(140,633.5)(140,702.5)(690,702.5)(0,nan)
(140,668)(108,668)(108,730)(710,730)(0,nan)
(710,755)(690,755)(690,770)(710,770)(0,nan)
(690,762.5)(660,762.5)(660,785)(710,785)(0,nan)
(108,699)(78,699)(78,773.75)(660,773.75)(0,nan)
(710,820)(690,820)(690,835)(710,835)(0,nan)
(690,827.5)(660,827.5)(660,848)(710,848)(0,nan)
(710,805)(625,805)(625,837.75)(660,837.75)(0,nan)
(78,736.4)(48,736.4)(48,821.4)(625,821.4)(0,nan)
(710,865)(690,865)(690,878)(710,878)(0,nan)
(48,778.9)(18,778.9)(18,871.5)(690,871.5)
};
\addplot[cb] coordinates {(733,51)(733,130)(0,nan)(733,145)(733,200)(0,nan)(733,218)(733,240)(0,nan)(733,252)(733,315)(0,nan)(733,335)(733,355)(0,nan)(733,365)(733,432)(0,nan)(733,450)(733,472)(0,nan)(733,478)(733,568)(0,nan)(733,590)(733,612)(0,nan)(733,625)(733,648)(0,nan)(733,660)(733,685)(0,nan)(733,690)(733,715)(0,nan)(733,750)(733,880)(0,nan)(822,51)(822,315)(0,nan)(822,335)(822,430)(0,nan)(822,478)(822,568)(0,nan)(822,598)(822,612)};
\addplot[sb] coordinates {(18,920)(18,930)(0,nan)(18,925)(322,925)(0,nan)(322,920)(322,930)};
\node[P] at (2,80) {i};
\node[L] at (748,95) {Ar};
\node[L] at (745,190) {Ce};
\node[L] at (745,236) {Ar};
\node[L] at (745,294) {Ca};
\node[L] at (745,344) {La};
\node[L] at (745,405) {Pr};
\node[L] at (745,463) {Ch};
\node[L] at (745,535) {Ro};
\node[L] at (745,603) {Ca};
\node[L] at (745,642) {Ma};
\node[L] at (745,679) {Av};
\node[L] at (745,718) {Ch};
\node[L] at (755,825) {Te};
\node[L] at (835,220) {Lt};
\node[L] at (835,405) {Eg};
\node[L] at (835,535) {Eg};
\node[L] at (835,605) {Lt};
\node[N] at (160,955) {10};
\end{axis}
% ---------------- j
\begin{axis}[panel, at={(0bp,-840bp)}, ymax=927, height=309bp]
\addplot[tr] coordinates {
(718,42)(683,42)(683,55)(718,55)(0,nan)
(683,48.5)(640,48.5)(640,70)(718,70)(0,nan)
(640,59.25)(595,59.25)(595,82)(718,82)(0,nan)
(595,70.6)(510,70.6)(510,95)(718,95)(0,nan)
(718,130)(683,130)(683,145)(718,145)(0,nan)
(718,162)(683,162)(683,177)(718,177)(0,nan)
(683,169.5)(640,169.5)(640,192)(718,192)(0,nan)
(640,180.75)(550,180.75)(550,222)(718,222)(0,nan)
(718,240)(683,240)(683,255)(718,255)(0,nan)
(683,247.5)(640,247.5)(640,270)(718,270)(0,nan)
(718,290)(683,290)(683,305)(718,305)(0,nan)
(683,297.5)(640,297.5)(640,320)(718,320)(0,nan)
(718,357)(683,357)(683,372)(718,372)(0,nan)
(718,403)(683,403)(683,418)(718,418)(0,nan)
(718,388)(640,388)(640,410.5)(683,410.5)(0,nan)
(683,364.5)(550,364.5)(550,399.25)(640,399.25)(0,nan)
(718,337)(510,337)(510,381.9)(550,381.9)(0,nan)
(640,308.75)(465,308.75)(465,359.45)(510,359.45)(0,nan)
(640,258.75)(420,258.75)(420,334.1)(465,334.1)(0,nan)
(550,201.4)(375,201.4)(375,296.4)(420,296.4)(0,nan)
(683,137.5)(330,137.5)(330,248.9)(375,248.9)(0,nan)
(718,112)(290,112)(290,193.2)(330,193.2)(0,nan)
(510,82.8)(245,82.8)(245,152.6)(290,152.6)(0,nan)
(718,448)(683,448)(683,462)(718,462)(0,nan)
(245,117.7)(205,117.7)(205,455)(683,455)(0,nan)
(718,510)(683,510)(683,525)(718,525)(0,nan)
(718,495)(640,495)(640,517.5)(683,517.5)(0,nan)
(718,480)(600,480)(600,506.25)(640,506.25)(0,nan)
(205,286.35)(157,286.35)(157,493.1)(600,493.1)(0,nan)
(157,389.7)(113,389.7)(113,545)(718,545)(0,nan)
(718,578)(683,578)(683,592)(718,592)(0,nan)
(718,608)(683,608)(683,622)(718,622)(0,nan)
(683,585)(640,585)(640,615)(683,615)(0,nan)
(640,600)(595,600)(595,640)(718,640)(0,nan)
(718,655)(683,655)(683,670)(718,670)(0,nan)
(718,688)(683,688)(683,703)(718,703)(0,nan)
(718,752)(683,752)(683,768)(718,768)(0,nan)
(718,783)(683,783)(683,798)(718,798)(0,nan)
(683,760)(640,760)(640,790.5)(683,790.5)(0,nan)
(718,735)(595,735)(595,775.25)(640,775.25)(0,nan)
(718,718)(550,718)(550,755.1)(595,755.1)(0,nan)
(683,695.5)(510,695.5)(510,736.6)(550,736.6)(0,nan)
(683,662.5)(465,662.5)(465,716)(510,716)(0,nan)
(595,620)(420,620)(420,689.25)(465,689.25)(0,nan)
(718,560)(375,560)(375,654.6)(420,654.6)(0,nan)
(113,467.4)(68,467.4)(68,607.3)(375,607.3)(0,nan)
(68,537.4)(22,537.4)(22,828)(718,828)(0,nan)
(22,815)(718,815)
};
\addplot[cb] coordinates {(735,25)(735,100)(0,nan)(735,110)(735,150)(0,nan)(735,160)(735,225)(0,nan)(735,235)(735,280)(0,nan)(735,288)(735,325)(0,nan)(735,345)(735,425)(0,nan)(735,445)(735,470)(0,nan)(735,478)(735,530)(0,nan)(735,555)(735,830)(0,nan)(825,20)(825,430)};
\addplot[sb] coordinates {(25,870)(25,880)(0,nan)(25,875)(243,875)(0,nan)(243,870)(243,880)};
\node[P] at (30,48) {j};
\node[L] at (748,58) {Pr};
\node[S] at (748,122) {La};
\node[S] at (748,148) {Pr};
\node[L] at (745,188) {Ro};
\node[L] at (745,242) {Ro};
\node[S] at (748,270) {Po};
\node[L] at (745,310) {Ca};
\node[L] at (745,390) {Ar};
\node[L] at (745,462) {Ma};
\node[L] at (745,510) {Av};
\node[L] at (755,690) {Te};
\node[L] at (840,195) {Et};
\node[N] at (130,905) {5};
\end{axis}
% ---------------- k
\begin{axis}[panel, at={(298bp,-840bp)}, ymax=927, height=309bp]
\addplot[tr] coordinates {
(713,42)(680,42)(680,55)(713,55)(0,nan)
(680,48.5)(640,48.5)(640,68)(713,68)(0,nan)
(713,82)(680,82)(680,96)(713,96)(0,nan)
(640,58.25)(600,58.25)(600,89)(680,89)(0,nan)
(600,73.6)(560,73.6)(560,112)(713,112)(0,nan)
(560,92.8)(520,92.8)(520,127)(713,127)(0,nan)
(520,109.9)(485,109.9)(485,143)(713,143)(0,nan)
(713,192)(680,192)(680,205)(713,205)(0,nan)
(713,178)(640,178)(640,198.5)(680,198.5)(0,nan)
(713,160)(600,160)(600,188.25)(640,188.25)(0,nan)
(485,126.5)(445,126.5)(445,174.1)(600,174.1)(0,nan)
(713,225)(680,225)(680,240)(713,240)(0,nan)
(713,255)(680,255)(680,270)(713,270)(0,nan)
(680,232.5)(640,232.5)(640,262.5)(680,262.5)(0,nan)
(445,150.3)(405,150.3)(405,247.5)(640,247.5)(0,nan)
(405,198.9)(370,198.9)(370,288)(713,288)(0,nan)
(370,243.45)(330,243.45)(330,303)(713,303)(0,nan)
(713,380)(680,380)(680,393)(713,393)(0,nan)
(713,365)(640,365)(640,386.5)(680,386.5)(0,nan)
(713,350)(600,350)(600,375.75)(640,375.75)(0,nan)
(713,335)(565,335)(565,362.9)(600,362.9)(0,nan)
(713,320)(525,320)(525,348.9)(565,348.9)(0,nan)
(330,273.2)(292,273.2)(292,334.5)(525,334.5)(0,nan)
(292,303.85)(255,303.85)(255,410)(713,410)(0,nan)
(255,356.9)(218,356.9)(218,425)(713,425)(0,nan)
(713,448)(680,448)(680,462)(713,462)(0,nan)
(218,391)(178,391)(178,455)(680,455)(0,nan)
(713,528)(680,528)(680,542)(713,542)(0,nan)
(713,512)(640,512)(640,535)(680,535)(0,nan)
(713,495)(605,495)(605,523.5)(640,523.5)(0,nan)
(713,478)(568,478)(568,509.25)(605,509.25)(0,nan)
(178,423)(138,423)(138,493.6)(568,493.6)(0,nan)
(138,458.3)(100,458.3)(100,558)(713,558)(0,nan)
(713,578)(680,578)(680,592)(713,592)(0,nan)
(713,607)(680,607)(680,620)(713,620)(0,nan)
(680,585)(645,585)(645,613.5)(680,613.5)(0,nan)
(645,599.25)(610,599.25)(610,637)(713,637)(0,nan)
(713,705)(680,705)(680,718)(713,718)(0,nan)
(713,752)(680,752)(680,768)(713,768)(0,nan)
(713,783)(680,783)(680,798)(713,798)(0,nan)
(680,760)(640,760)(640,790.5)(680,790.5)(0,nan)
(713,735)(605,735)(605,775.25)(640,775.25)(0,nan)
(680,711.5)(565,711.5)(565,755.1)(605,755.1)(0,nan)
(713,688)(528,688)(528,733.3)(565,733.3)(0,nan)
(713,672)(490,672)(490,710.65)(528,710.65)(0,nan)
(713,655)(455,655)(455,691.3)(490,691.3)(0,nan)
(610,618.1)(415,618.1)(415,673.2)(455,673.2)(0,nan)
(100,508.15)(65,508.15)(65,645.6)(415,645.6)(0,nan)
(713,815)(680,815)(680,828)(713,828)(0,nan)
(65,576.9)(25,576.9)(25,821.5)(680,821.5)
};
\addplot[cb] coordinates {(735,20)(735,128)(0,nan)(735,170)(735,210)(0,nan)(735,225)(735,270)(0,nan)(735,320)(735,398)(0,nan)(735,403)(735,440)(0,nan)(735,448)(735,465)(0,nan)(735,495)(735,545)(0,nan)(735,560)(735,830)(0,nan)(820,20)(820,430)};
\addplot[sb] coordinates {(28,870)(28,880)(0,nan)(28,875)(415,875)(0,nan)(415,870)(415,880)};
\node[P] at (8,48) {k};
\node[L] at (748,58) {Pr};
\node[L] at (745,195) {Ca};
\node[L] at (745,252) {Ro};
\node[L] at (745,368) {Ar};
\node[S] at (748,407) {Po};
\node[S] at (748,430) {Ro};
\node[L] at (745,468) {Ma};
\node[L] at (745,522) {Av};
\node[L] at (755,690) {Te};
\node[L] at (835,252) {Et};
\node[N] at (225,905) {10};
\end{axis}
% ---------------- l
\begin{axis}[panel, at={(596bp,-840bp)}, ymax=927, height=309bp]
\addplot[tr] coordinates {
(708,50)(680,50)(680,65)(708,65)(0,nan)
(708,35)(640,35)(640,57.5)(680,57.5)(0,nan)
(708,18)(603,18)(603,46.25)(640,46.25)(0,nan)
(603,32.1)(568,32.1)(568,82)(708,82)(0,nan)
(708,97)(680,97)(680,110)(708,110)(0,nan)
(568,57.05)(535,57.05)(535,103.5)(680,103.5)(0,nan)
(535,80.3)(500,80.3)(500,127)(708,127)(0,nan)
(708,145)(680,145)(680,160)(708,160)(0,nan)
(680,152.5)(640,152.5)(640,175)(708,175)(0,nan)
(500,103.65)(467,103.65)(467,163.75)(640,163.75)(0,nan)
(708,192)(680,192)(680,207)(708,207)(0,nan)
(680,199.5)(640,199.5)(640,222)(708,222)(0,nan)
(640,210.75)(605,210.75)(605,238)(708,238)(0,nan)
(467,133.7)(433,133.7)(433,224.4)(605,224.4)(0,nan)
(433,179.05)(400,179.05)(400,255)(708,255)(0,nan)
(400,217)(365,217)(365,272)(708,272)(0,nan)
(365,244.5)(330,244.5)(330,287)(708,287)(0,nan)
(708,305)(680,305)(680,320)(708,320)(0,nan)
(680,312.5)(640,312.5)(640,335)(708,335)(0,nan)
(640,323.75)(605,323.75)(605,350)(708,350)(0,nan)
(605,336.9)(575,336.9)(575,365)(708,365)(0,nan)
(708,383)(680,383)(680,396)(708,396)(0,nan)
(575,350.9)(540,350.9)(540,389.5)(680,389.5)(0,nan)
(330,265.75)(297,265.75)(297,370.2)(540,370.2)(0,nan)
(297,318)(262,318)(262,412)(708,412)(0,nan)
(262,365)(230,365)(230,430)(708,430)(0,nan)
(708,448)(680,448)(680,462)(708,462)(0,nan)
(230,397.5)(195,397.5)(195,455)(680,455)(0,nan)
(708,480)(680,480)(680,495)(708,495)(0,nan)
(680,487.5)(650,487.5)(650,510)(708,510)(0,nan)
(650,498.75)(615,498.75)(615,525)(708,525)(0,nan)
(615,511.9)(580,511.9)(580,543)(708,543)(0,nan)
(195,426.25)(162,426.25)(162,527.4)(580,527.4)(0,nan)
(162,476.8)(127,476.8)(127,558)(708,558)(0,nan)
(708,575)(680,575)(680,590)(708,590)(0,nan)
(680,582.5)(650,582.5)(650,605)(708,605)(0,nan)
(650,593.75)(615,593.75)(615,620)(708,620)(0,nan)
(615,606.9)(580,606.9)(580,637)(708,637)(0,nan)
(127,517.4)(95,517.4)(95,621.9)(580,621.9)(0,nan)
(708,655)(690,655)(690,668)(708,668)(0,nan)
(95,569.65)(60,569.65)(60,661.5)(690,661.5)(0,nan)
(708,735)(680,735)(680,750)(708,750)(0,nan)
(708,780)(680,780)(680,795)(708,795)(0,nan)
(708,810)(680,810)(680,825)(708,825)(0,nan)
(680,787.5)(650,787.5)(650,817.5)(680,817.5)(0,nan)
(708,765)(615,765)(615,802.5)(650,802.5)(0,nan)
(680,742.5)(580,742.5)(580,783.75)(615,783.75)(0,nan)
(708,718)(548,718)(548,763.1)(580,763.1)(0,nan)
(708,703)(515,703)(515,740.6)(548,740.6)(0,nan)
(708,688)(480,688)(480,721.8)(515,721.8)(0,nan)
(60,615.6)(22,615.6)(22,704.9)(480,704.9)
};
\addplot[cb] coordinates {(733,15)(733,128)(0,nan)(733,145)(733,180)(0,nan)(733,192)(733,240)(0,nan)(733,300)(733,395)(0,nan)(733,403)(733,440)(0,nan)(733,448)(733,465)(0,nan)(733,478)(733,545)(0,nan)(733,560)(733,830)(0,nan)(822,15)(822,410)(0,nan)(822,425)(822,438)};
\addplot[sb] coordinates {(22,870)(22,880)(0,nan)(22,875)(375,875)(0,nan)(375,870)(375,880)};
\node[P] at (8,48) {l};
\node[L] at (748,58) {Pr};
\node[L] at (745,165) {Ca};
\node[L] at (745,218) {Ro};
\node[L] at (745,348) {Ar};
\node[S] at (748,407) {Ro};
\node[S] at (748,430) {Po};
\node[L] at (745,465) {Ma};
\node[L] at (745,510) {Av};
\node[L] at (755,690) {Te};
\node[L] at (840,215) {Bt};
\node[L] at (840,440) {At};
\node[N] at (200,905) {10};
\end{axis}
\end{tikzpicture}
\end{document}
